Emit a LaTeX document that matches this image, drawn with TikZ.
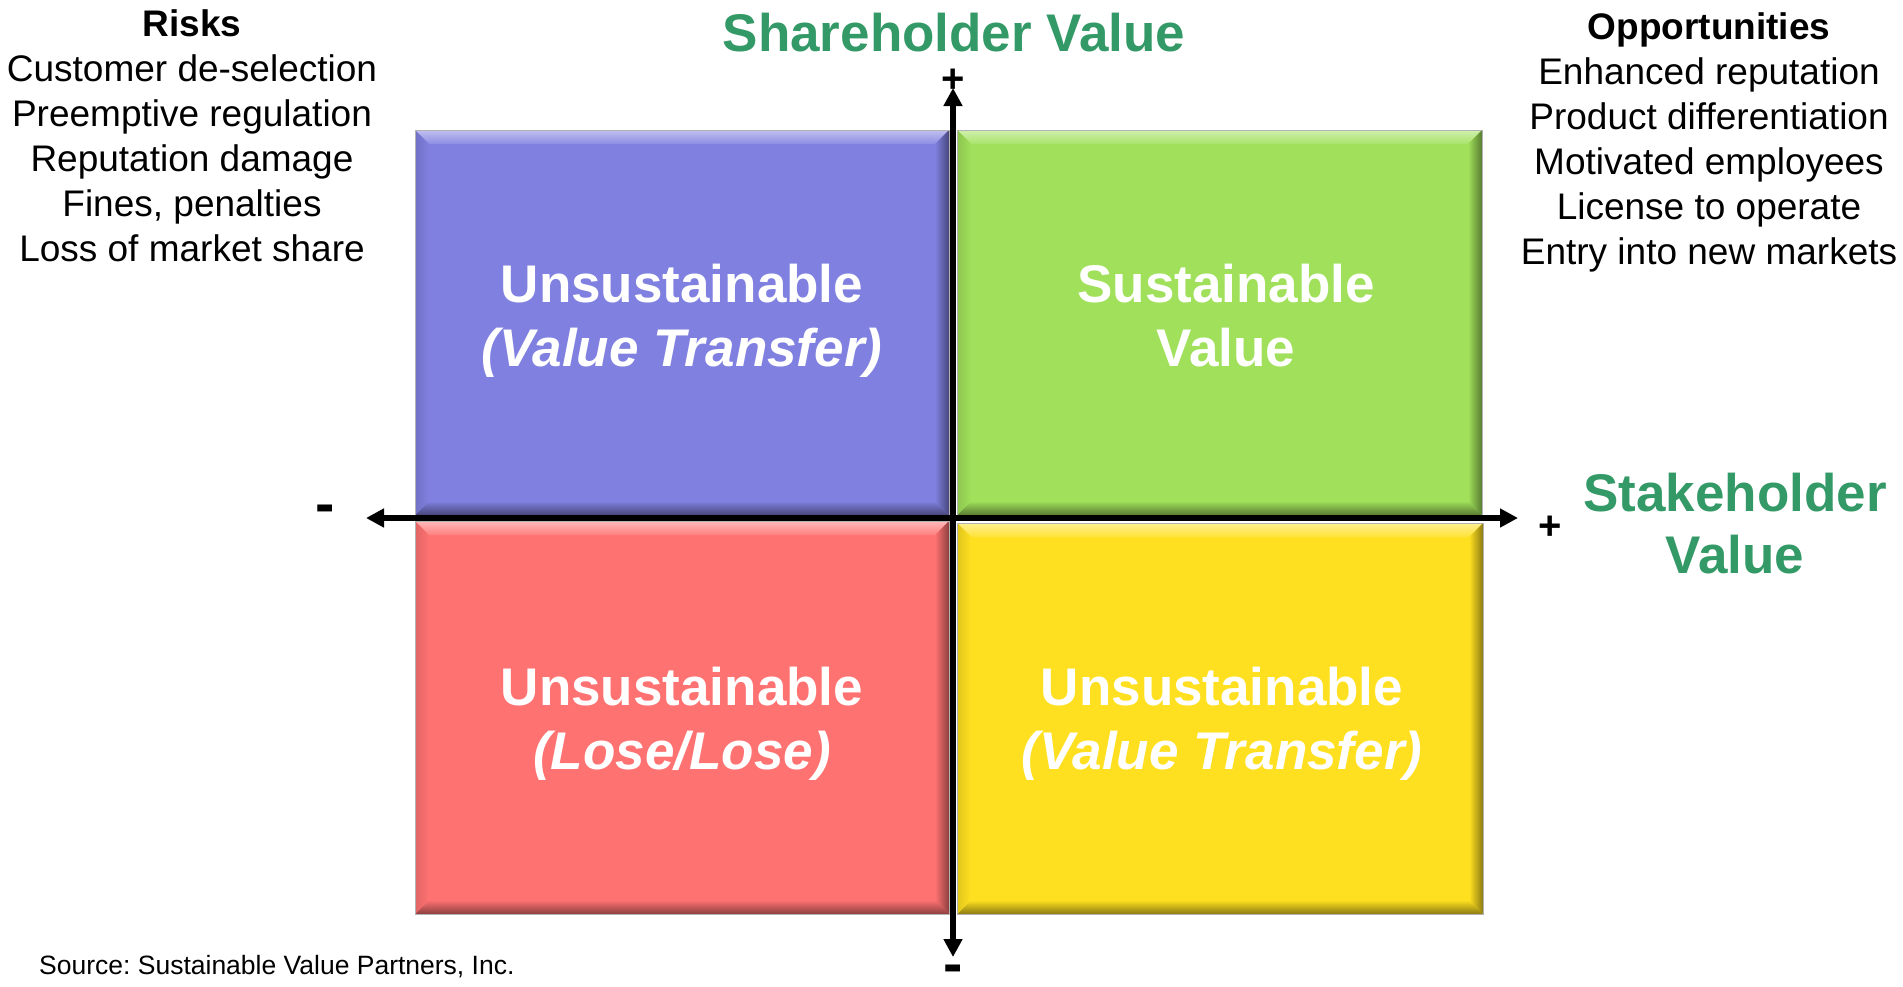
\documentclass[tikz,border=0pt]{standalone}
\usepackage{fontspec}
\setmainfont{Liberation Sans}
\usetikzlibrary{arrows.meta}
\definecolor{titlegreen}{RGB}{51,153,102}
\definecolor{qblue}{RGB}{128,128,224}
\definecolor{qgreen}{RGB}{160,224,90}
\definecolor{qred}{RGB}{255,114,114}
\definecolor{qyellow}{RGB}{255,224,32}
\newcommand\quadbox[5]{%
 \fill[#5] (#1,#2) rectangle (#3,#4);
 \shade[top color=#5!50!white, bottom color=#5!90!white] (#1,#2) -- (#3,#2) -- (#3-14,#2+14) -- (#1+14,#2+14) -- cycle;
 \shade[left color=#5, right color=#5!55!black] (#3,#2) -- (#3,#4) -- (#3-14,#4-14) -- (#3-14,#2+14) -- cycle;
 \shade[top color=#5, bottom color=#5!55!black] (#1,#4) -- (#3,#4) -- (#3-14,#4-14) -- (#1+14,#4-14) -- cycle;
 \shade[left color=#5!88!black, right color=#5] (#1,#2) -- (#1+14,#2+14) -- (#1+14,#4-14) -- (#1,#4) -- cycle;
 \draw[black!30, line width=1pt] (#1,#2) rectangle (#3,#4);
}
\begin{document}
\begin{tikzpicture}[x=1pt,y=-1pt,
 axis/.style={line width=6pt, {Triangle[length=18pt,width=18pt]}-{Triangle[length=18pt,width=18pt]}},
 quadlabel/.style={font=\bfseries\fontsize{53}{64}\selectfont, text=white, align=center, anchor=north, inner sep=0pt},
 listtext/.style={font=\fontsize{37}{45}\selectfont, align=center, anchor=north, inner sep=0pt},
 axtitle/.style={font=\bfseries\fontsize{53}{62}\selectfont, text=titlegreen, align=center, inner sep=0pt},
 plussign/.style={font=\bfseries\fontsize{40}{40}\selectfont, inner sep=0pt},
 minussign/.style={font=\bfseries\fontsize{58}{58}\selectfont, inner sep=0pt}]
\useasboundingbox (0,0) rectangle (1903,986);
\fill[white] (0,0) rectangle (1903,986);

\quadbox{415}{130}{949}{515}{qblue}
\quadbox{957}{130}{1482}{515}{qgreen}
\quadbox{415}{521}{949}{914}{qred}
\quadbox{957}{523}{1483}{914}{qyellow}

\node[quadlabel] (ul) at (682,264) {Unsustainable\\\textit{(Value Transfer)}};
\node[quadlabel] (ur) at (1226,264) {Sustainable\\Value};
\node[quadlabel] (ll) at (682,667) {Unsustainable\\\textit{(Lose/Lose)}};
\node[quadlabel] (lr) at (1222,667) {Unsustainable\\\textit{(Value Transfer)}};

\coordinate (O) at (953,518);
\coordinate (ytop) at (953,88);
\coordinate (ybot) at (953,957);
\coordinate (xleft) at (366,518);
\coordinate (xright) at (1518,518);
\draw[axis] (xleft) -- (xright);
\draw[axis] (ybot) -- (ytop);

\node[plussign] (yplus) at (953,81) {+};
\node[minussign] (yminus) at (953,974) {-};
\node[minussign] (xminus) at (325,514) {-};
\node[plussign] (xplus) at (1550,528) {+};

\node[axtitle, anchor=base] (sh) at (954,51) {Shareholder Value};
\node[axtitle, anchor=north] (st) at (1735,473) {Stakeholder\\Value};

\node[listtext] (risks) at (192,9) {\textbf{Risks}\\Customer de-selection\\Preemptive regulation\\Reputation damage\\Fines, penalties\\Loss of market share};
\node[listtext] (opps) at (1709,12) {\textbf{Opportunities}\\Enhanced reputation\\Product differentiation\\Motivated employees\\License to operate\\Entry into new markets};

\node[font=\frenchspacing\fontsize{26.5}{32}\selectfont, anchor=base west, inner sep=0pt] (src) at (39,974) {Source: Sustainable Value Partners, Inc.};
\end{tikzpicture}
\end{document}
